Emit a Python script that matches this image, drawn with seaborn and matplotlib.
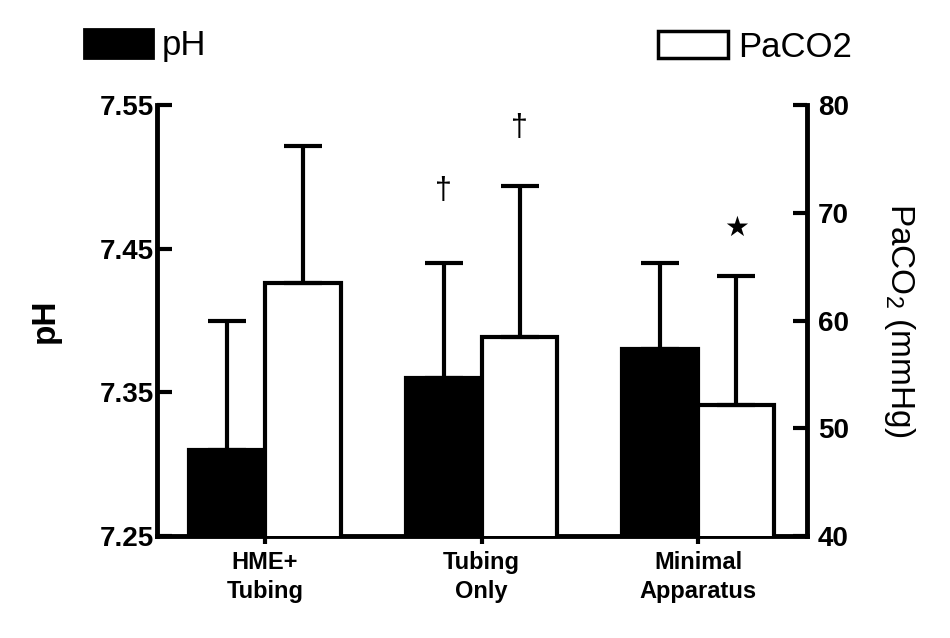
import numpy as np
import pandas as pd
import matplotlib
matplotlib.use("Agg")
import matplotlib.pyplot as plt
from matplotlib.patches import Patch
import seaborn as sns

# values (mean and upward SD)
groups = ["HME+\nTubing", "Tubing\nOnly", "Minimal\nApparatus"]
ph_mean = [7.31, 7.36, 7.38]
ph_sd = [0.09, 0.08, 0.06]
paco2_mean = [63.5, 58.5, 52.2]
paco2_sd = [12.7, 14.0, 11.9]

ph_ticks = [7.25, 7.35, 7.45, 7.55]
paco2_ticks = [40, 50, 60, 70, 80]

# significance marks: (series, group index, symbol)
marks = [("pH", 1, "\u2020"), ("PaCO2", 1, "\u2020"), ("PaCO2", 2, "\u2605")]

sns.set_style("ticks", {"axes.edgecolor": "black", "text.color": "black",
                        "xtick.color": "black", "ytick.color": "black",
                        "axes.labelcolor": "black"})
plt.rcParams["font.family"] = ["Liberation Sans", "DejaVu Sans"]
plt.rcParams["mathtext.fontset"] = "custom"
plt.rcParams["mathtext.rm"] = "Liberation Sans"
plt.rcParams["mathtext.default"] = "regular"

df_ph = pd.DataFrame({"group": groups, "measure": "pH", "value": ph_mean})
df_co2 = pd.DataFrame({"group": groups, "measure": "PaCO2", "value": paco2_mean})
palette = {"pH": "black", "PaCO2": "white"}
hue_order = ["pH", "PaCO2"]

fig = plt.figure(figsize=(9.5, 6.38), dpi=100)
ax = fig.add_axes([0.165, 0.160, 0.684, 0.675])
ax2 = ax.twinx()

sns.barplot(data=df_ph, x="group", y="value", hue="measure", hue_order=hue_order,
            order=groups, palette=palette, dodge=True, width=0.7,
            edgecolor="black", linewidth=3, errorbar=None, legend=False, ax=ax)
sns.barplot(data=df_co2, x="group", y="value", hue="measure", hue_order=hue_order,
            order=groups, palette=palette, dodge=True, width=0.7,
            edgecolor="black", linewidth=3, errorbar=None, legend=False, ax=ax2)

def centers(a):
    ps = sorted(a.patches, key=lambda p: p.get_x())
    return [p.get_x() + p.get_width() / 2 for p in ps]

ph_x = centers(ax)
co2_x = centers(ax2)

ax.errorbar(ph_x, ph_mean, yerr=[np.zeros(len(ph_sd)), ph_sd], fmt="none",
            ecolor="black", elinewidth=3, capsize=14, capthick=3)
ax2.errorbar(co2_x, paco2_mean, yerr=[np.zeros(len(paco2_sd)), paco2_sd], fmt="none",
             ecolor="black", elinewidth=3, capsize=14, capthick=3)

# annotations above the error bars
offsets = [52, 42, 35]
for (series, i, sym), off in zip(marks, offsets):
    if series == "pH":
        a, xs, top = ax, ph_x, ph_mean[i] + ph_sd[i]
    else:
        a, xs, top = ax2, co2_x, paco2_mean[i] + paco2_sd[i]
    if sym == "\u2605":
        a.annotate(sym, xy=(xs[i], top), xytext=(0, off), textcoords="offset points",
                   ha="center", va="center", fontsize=20, family="DejaVu Sans")
    else:
        a.annotate(sym, xy=(xs[i], top), xytext=(0, off), textcoords="offset points",
                   ha="center", va="center", fontsize=22)

ax.set_xlim(-0.5, 2.5)
ax.set_ylim(7.25, 7.55)
ax2.set_ylim(40, 80)
ax.set_yticks(ph_ticks, labels=[f"{t:.2f}" for t in ph_ticks], fontweight="bold")
ax2.set_yticks(paco2_ticks, labels=[str(t) for t in paco2_ticks], fontweight="bold")
ax.set_xticks(range(len(groups)), labels=groups, fontweight="bold", fontsize=17,
              linespacing=1.3)

ax.tick_params(axis="y", direction="in", length=11, width=3, pad=2, labelsize=20)
ax2.tick_params(axis="y", direction="in", length=10, width=3, pad=8, labelsize=20)
ax.tick_params(axis="x", direction="out", length=6, width=3, pad=5)

for s in ["top", "right"]:
    ax.spines[s].set_visible(False)
for s in ["top", "left", "bottom"]:
    ax2.spines[s].set_visible(False)
ax.spines["left"].set_linewidth(3.5)
ax.spines["bottom"].set_linewidth(3.5)
ax2.spines["right"].set_linewidth(3.5)

ax.set_xlabel("")
ax.set_ylabel("pH", fontsize=24, fontweight="bold", labelpad=28)
ax2.set_ylabel("PaCO$_2$ (mmHg)", fontsize=24, rotation=-90, va="bottom", labelpad=24)

h1 = Patch(facecolor="black", edgecolor="black", linewidth=2)
h2 = Patch(facecolor="white", edgecolor="black", linewidth=2.5)
fig.legend([h1], ["pH"], loc="upper left", bbox_to_anchor=(0.088, 0.955),
           frameon=False, fontsize=25, handlelength=2.0, handleheight=0.92,
           handletextpad=0.25, borderpad=0, borderaxespad=0)
fig.legend([h2], ["PaCO2"], loc="upper right", bbox_to_anchor=(0.897, 0.952),
           frameon=False, fontsize=25, handlelength=2.0, handleheight=0.85,
           handletextpad=0.3, borderpad=0, borderaxespad=0)

fig.savefig("out.png", dpi=100)
